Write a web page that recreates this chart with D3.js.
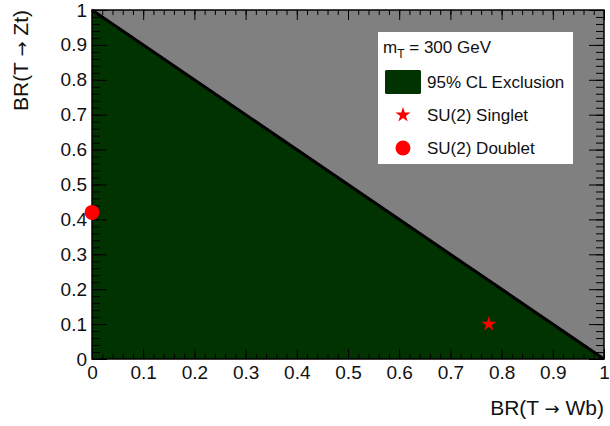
<!DOCTYPE html>
<html>
<head>
<meta charset="utf-8">
<script src="https://cdn.jsdelivr.net/npm/d3@7"></script>
<style>
  body { margin: 0; background: #fff; }
  svg { display: block; font-family: "Liberation Sans", Arial, sans-serif; }
  .tick text { fill: #111; }
  .title { white-space: pre; }
</style>
</head>
<body>
<svg id="chart" width="610" height="426"></svg>
<script>
// tick labels on both axes
var majorTicks = [0, 0.1, 0.2, 0.3, 0.4, 0.5, 0.6, 0.7, 0.8, 0.9, 1];
var minorTicks = d3.range(0, 51).map(function(i) { return i / 50; });

// 95% CL exclusion boundary, BR(T->Wb) vs BR(T->Zt)
var boundaryWb = [0, 1];
var boundaryZt = [1, 0];

// benchmark points
var singletWb = [0.775];
var singletZt = [0.1];
var doubletWb = [0];
var doubletZt = [0.42];

var legendLabels = ['95% CL Exclusion', 'SU(2) Singlet', 'SU(2) Doublet'];

// careful: "top" is window.top, can't use it as a global
var padL = 92, padR = 604, padT = 10, padB = 359;

var svg = d3.select('#chart');

var x = d3.scaleLinear().domain([0, 1]).range([padL, padR]);
var y = d3.scaleLinear().domain([0, 1]).range([padB, padT]);

var boundary = boundaryWb.map(function(d, i) { return [d, boundaryZt[i]]; });

// allowed region (everything above the line) in grey
svg.append('rect')
  .attr('x', x(0)).attr('y', y(1))
  .attr('width', x(1) - x(0)).attr('height', y(0) - y(1))
  .attr('fill', '#808080');

// excluded region under the boundary
var area = d3.area()
  .x(function(d) { return x(d[0]); })
  .y0(y(0))
  .y1(function(d) { return y(d[1]); });
svg.append('path')
  .datum(boundary)
  .attr('d', area)
  .attr('fill', '#003300');

svg.append('path')
  .datum(boundary)
  .attr('d', d3.line().x(function(d) { return x(d[0]); }).y(function(d) { return y(d[1]); }))
  .attr('fill', 'none')
  .attr('stroke', '#000')
  .attr('stroke-width', 3);

// axes - ticks point inwards, ROOT style
function fmt(d) { return d3.format('~g')(d); }

svg.append('g').attr('transform', 'translate(0,' + padB + ')')
  .call(d3.axisBottom(x).tickValues(minorTicks).tickSize(-5).tickFormat(''));
svg.append('g').attr('transform', 'translate(0,' + padB + ')')
  .call(d3.axisBottom(x).tickValues(majorTicks).tickSize(-10).tickPadding(7).tickFormat(fmt));
svg.append('g').attr('transform', 'translate(0,' + padT + ')')
  .call(d3.axisTop(x).tickValues(minorTicks).tickSize(-5).tickFormat(''));
svg.append('g').attr('transform', 'translate(0,' + padT + ')')
  .call(d3.axisTop(x).tickValues(majorTicks).tickSize(-10).tickFormat(''));

svg.append('g').attr('transform', 'translate(' + padL + ',0)')
  .call(d3.axisLeft(y).tickValues(minorTicks).tickSize(-8).tickFormat(''));
svg.append('g').attr('transform', 'translate(' + padL + ',0)')
  .call(d3.axisLeft(y).tickValues(majorTicks).tickSize(-15).tickPadding(5).tickFormat(fmt));
svg.append('g').attr('transform', 'translate(' + padR + ',0)')
  .call(d3.axisRight(y).tickValues(minorTicks).tickSize(-8).tickFormat(''));
svg.append('g').attr('transform', 'translate(' + padR + ',0)')
  .call(d3.axisRight(y).tickValues(majorTicks).tickSize(-15).tickFormat(''));

svg.selectAll('.domain').remove();
svg.selectAll('.tick line').attr('stroke', '#000');
svg.selectAll('.tick text').attr('font-size', 19).attr('font-family', '"Liberation Sans", Arial, sans-serif');

// frame
svg.append('rect')
  .attr('x', padL).attr('y', padT)
  .attr('width', padR - padL).attr('height', padB - padT)
  .attr('fill', 'none').attr('stroke', '#000').attr('stroke-width', 1.5);

// axis titles, arrow taken from DejaVu (longer, like the ROOT symbol font)
function title(sel, a, b) {
  sel.append('tspan').text(a);
  sel.append('tspan').attr('font-family', '"DejaVu Sans"').attr('font-size', 18).text('\u2192');
  sel.append('tspan').text(b);
}

svg.append('text')
  .attr('class', 'title')
  .attr('x', padR).attr('y', 415)
  .attr('text-anchor', 'end')
  .attr('font-size', 21)
  .attr('fill', '#111')
  .call(title, 'BR(T ', ' Wb)');

svg.append('text')
  .attr('class', 'title')
  .attr('transform', 'translate(28,' + padT + ') rotate(-90)')
  .attr('text-anchor', 'end')
  .attr('font-size', 21)
  .attr('fill', '#111')
  .call(title, 'BR(T ', ' Zt)');

// legend
var lg = svg.append('g');
lg.append('rect')
  .attr('x', 378).attr('y', 32).attr('width', 195).attr('height', 132)
  .attr('fill', '#fff');

var mt = lg.append('text').attr('x', 383).attr('y', 53).attr('font-size', 17).attr('fill', '#111');
mt.append('tspan').text('m');
mt.append('tspan').attr('font-size', 12).attr('dy', 5).text('T');
mt.append('tspan').attr('dy', -5).text(' = 300 GeV');

lg.append('rect')
  .attr('x', 385).attr('y', 70).attr('width', 36).attr('height', 24)
  .attr('rx', 1.5)
  .attr('fill', '#003300');

lg.selectAll('text.entry')
  .data(legendLabels)
  .enter().append('text')
  .attr('class', 'entry')
  .attr('x', 427)
  .attr('y', function(d, i) { return 88 + i * 33; })
  .attr('font-size', 17)
  .attr('fill', '#111')
  .text(function(d) { return d; });

var star = d3.symbol().type(d3.symbolStar).size(70);

lg.append('path')
  .attr('d', star)
  .attr('transform', 'translate(403,115)')
  .attr('fill', '#ff0000');
lg.append('circle')
  .attr('cx', 403).attr('cy', 148).attr('r', 7.5)
  .attr('fill', '#ff0000');

// benchmark markers
svg.selectAll('path.singlet')
  .data(singletWb)
  .enter().append('path')
  .attr('class', 'singlet')
  .attr('d', star)
  .attr('transform', function(d, i) { return 'translate(' + x(d) + ',' + y(singletZt[i]) + ')'; })
  .attr('fill', '#ff0000');

svg.selectAll('circle.doublet')
  .data(doubletWb)
  .enter().append('circle')
  .attr('class', 'doublet')
  .attr('cx', function(d) { return x(d); })
  .attr('cy', function(d, i) { return y(doubletZt[i]); })
  .attr('r', 7.5)
  .attr('fill', '#ff0000');
</script>
</body>
</html>
